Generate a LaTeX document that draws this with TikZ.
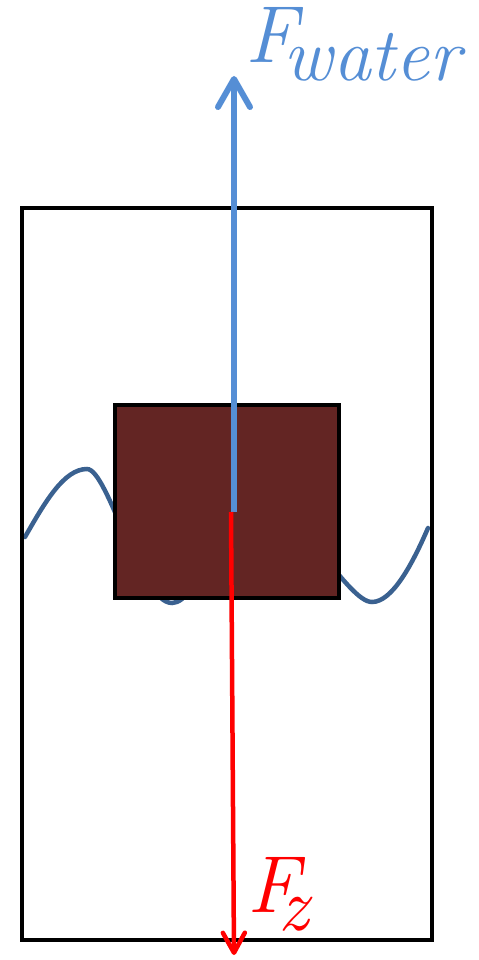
\documentclass[tikz,border=0pt]{standalone}
\usepackage{fontspec}
\usetikzlibrary{arrows.meta}

\definecolor{boxred}{HTML}{632523}
\definecolor{forceblue}{HTML}{558ED5}
\definecolor{wavecol}{HTML}{3A6190}
\definecolor{forcered}{HTML}{FF0000}

\tikzset{
  forcelabel/.style={inner sep=0pt, anchor=base west},
}

\newcommand{\bigF}{{\fontsize{46}{52}\selectfont\itshape F}}
\newcommand{\subtext}[1]{\raisebox{-3.6mm}{\fontsize{43}{48}\selectfont\itshape #1}}

\begin{document}
\begin{tikzpicture}[x=0.2mm,y=-0.2mm]
    \useasboundingbox (0,0) rectangle (479,960);

    % Coordinates of the forces
    \coordinate (Pb) at (234,512);   % start of buoyancy
    \coordinate (Up) at (234,76);    % tip of buoyancy
    \coordinate (Pr) at (231,512);   % start of gravity
    \coordinate (Down) at (234,955); % tip of gravity

    % Water surface (behind the body)
    \draw[wavecol, line width=0.9mm, line cap=round]
    (25,537) .. controls (45,502) and (64,469) .. (87,469)
    .. controls (108,469) and (140,603) .. (172,603)
    .. controls (200,603) and (220,505) .. (255,505)
    .. controls (300,505) and (347,602) .. (372,602)
    .. controls (392,602) and (412,565) .. (428,528);

    % Body
    \draw[line width=0.8mm, fill=boxred] (115,405) rectangle (339,598);

    % Container
    \draw[line width=0.8mm] (22,208) rectangle (432,940);

    % Forces
    \draw[forceblue, line width=1.2mm, -{Straight Barb[round,length=5.6mm,width=6.4mm]}] (Pb) -- (Up);
    \draw[forcered, line width=0.9mm, -{Straight Barb[round,length=4mm,width=4.4mm]}] (Pr) -- (Down);

    % Labels
    \node[forcelabel, forceblue] (Fwater) at (245,63) {\bigF\kern-2.6mm\subtext{water}};
    \node[forcelabel, forcered] (Fz) at (247,912) {\bigF\kern-4mm\subtext{z}};

\end{tikzpicture}
\end{document}
